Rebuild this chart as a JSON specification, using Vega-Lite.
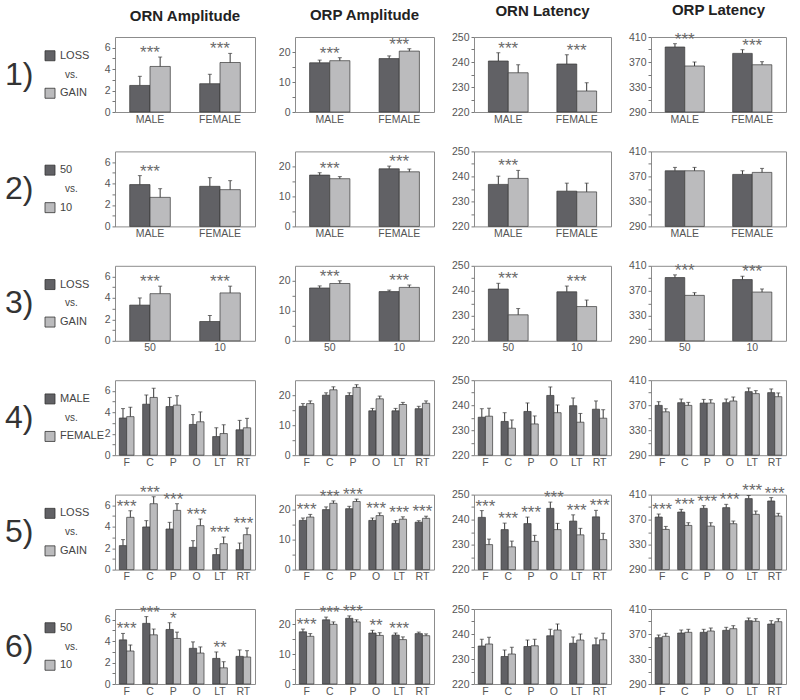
{
"$schema":"https://vega.github.io/schema/vega-lite/v6.json",
"padding":{"left":5,"right":5,"top":2,"bottom":5},
"config":{"font":"Liberation Sans","view":{"stroke":"#8c8c8c","strokeWidth":1},"axis":{"domain":false,"grid":false,"labelColor":"#555","labelFontSize":10.5,"tickColor":"#777","tickSize":3,"labelPadding":2},"title":{"fontSize":15,"fontWeight":"bold","color":"#222","offset":13}},
"datasets":{
"leg":[
{"r":1,"slot":"top","t":"LOSS","sh":"a"},{"r":1,"slot":"mid","t":"vs.","n":"1)"},{"r":1,"slot":"bot","t":"GAIN","sh":"b"},
{"r":2,"slot":"top","t":"50","sh":"a"},{"r":2,"slot":"mid","t":"vs.","n":"2)"},{"r":2,"slot":"bot","t":"10","sh":"b"},
{"r":3,"slot":"top","t":"LOSS","sh":"a"},{"r":3,"slot":"mid","t":"vs.","n":"3)"},{"r":3,"slot":"bot","t":"GAIN","sh":"b"},
{"r":4,"slot":"top","t":"MALE","sh":"a"},{"r":4,"slot":"mid","t":"vs.","n":"4)"},{"r":4,"slot":"bot","t":"FEMALE","sh":"b"},
{"r":5,"slot":"top","t":"LOSS","sh":"a"},{"r":5,"slot":"mid","t":"vs.","n":"5)"},{"r":5,"slot":"bot","t":"GAIN","sh":"b"},
{"r":6,"slot":"top","t":"50","sh":"a"},{"r":6,"slot":"mid","t":"vs.","n":"6)"},{"r":6,"slot":"bot","t":"10","sh":"b"}
],
"d":[
{"r":1,"m":"A","c":"MALE","g":"a","v":2.48,"e":0.85,"s":"***"},{"r":1,"m":"A","c":"MALE","g":"b","v":4.25,"e":0.88},
{"r":1,"m":"A","c":"FEMALE","g":"a","v":2.64,"e":0.88,"s":"***"},{"r":1,"m":"A","c":"FEMALE","g":"b","v":4.62,"e":0.85},
{"r":1,"m":"B","c":"MALE","g":"a","v":16.4,"e":0.9,"s":"***"},{"r":1,"m":"B","c":"MALE","g":"b","v":17.1,"e":1.0},
{"r":1,"m":"B","c":"FEMALE","g":"a","v":17.8,"e":0.9,"s":"***"},{"r":1,"m":"B","c":"FEMALE","g":"b","v":20.3,"e":0.8},
{"r":1,"m":"C","c":"MALE","g":"a","v":240.4,"e":3.3,"s":"***"},{"r":1,"m":"C","c":"MALE","g":"b","v":235.7,"e":3.2},
{"r":1,"m":"C","c":"FEMALE","g":"a","v":239.2,"e":3.7,"s":"***"},{"r":1,"m":"C","c":"FEMALE","g":"b","v":228.4,"e":3.3},
{"r":1,"m":"D","c":"MALE","g":"a","v":394,"e":5.3,"s":"***"},{"r":1,"m":"D","c":"MALE","g":"b","v":363.6,"e":6.4},
{"r":1,"m":"D","c":"FEMALE","g":"a","v":383.8,"e":5.9,"s":"***"},{"r":1,"m":"D","c":"FEMALE","g":"b","v":365.6,"e":4.9},
{"r":2,"m":"A","c":"MALE","g":"a","v":3.9,"e":0.84,"s":"***"},{"r":2,"m":"A","c":"MALE","g":"b","v":2.71,"e":0.81},
{"r":2,"m":"A","c":"FEMALE","g":"a","v":3.74,"e":0.81},{"r":2,"m":"A","c":"FEMALE","g":"b","v":3.43,"e":0.84},
{"r":2,"m":"B","c":"MALE","g":"a","v":17.1,"e":0.8,"s":"***"},{"r":2,"m":"B","c":"MALE","g":"b","v":15.9,"e":0.7},
{"r":2,"m":"B","c":"FEMALE","g":"a","v":19.2,"e":0.9,"s":"***"},{"r":2,"m":"B","c":"FEMALE","g":"b","v":18.2,"e":0.9},
{"r":2,"m":"C","c":"MALE","g":"a","v":236.8,"e":3.3,"s":"***"},{"r":2,"m":"C","c":"MALE","g":"b","v":239.2,"e":3.2},
{"r":2,"m":"C","c":"FEMALE","g":"a","v":234.1,"e":3.2},{"r":2,"m":"C","c":"FEMALE","g":"b","v":233.8,"e":3.5},
{"r":2,"m":"D","c":"MALE","g":"a","v":379,"e":5.4},{"r":2,"m":"D","c":"MALE","g":"b","v":379,"e":5.4},
{"r":2,"m":"D","c":"FEMALE","g":"a","v":373.2,"e":5.8},{"r":2,"m":"D","c":"FEMALE","g":"b","v":376.4,"e":6.4},
{"r":3,"m":"A","c":"50","g":"a","v":3.33,"e":0.67,"s":"***"},{"r":3,"m":"A","c":"50","g":"b","v":4.4,"e":0.7},
{"r":3,"m":"A","c":"10","g":"a","v":1.8,"e":0.56,"s":"***"},{"r":3,"m":"A","c":"10","g":"b","v":4.47,"e":0.63},
{"r":3,"m":"B","c":"50","g":"a","v":17.6,"e":0.7,"s":"***"},{"r":3,"m":"B","c":"50","g":"b","v":19.1,"e":0.9},
{"r":3,"m":"B","c":"10","g":"a","v":16.4,"e":0.5,"s":"***"},{"r":3,"m":"B","c":"10","g":"b","v":17.8,"e":0.8},
{"r":3,"m":"C","c":"50","g":"a","v":240.7,"e":2.3,"s":"***"},{"r":3,"m":"C","c":"50","g":"b","v":230.4,"e":2.5},
{"r":3,"m":"C","c":"10","g":"a","v":239.6,"e":2.3,"s":"***"},{"r":3,"m":"C","c":"10","g":"b","v":233.7,"e":2.6},
{"r":3,"m":"D","c":"50","g":"a","v":391.2,"e":4.3,"s":"***"},{"r":3,"m":"D","c":"50","g":"b","v":362.7,"e":4.3},
{"r":3,"m":"D","c":"10","g":"a","v":388,"e":5.3,"s":"***"},{"r":3,"m":"D","c":"10","g":"b","v":368,"e":4.9},
{"r":4,"m":"A","c":"F","g":"a","v":3.47,"e":0.88},{"r":4,"m":"A","c":"F","g":"b","v":3.6,"e":0.88},
{"r":4,"m":"A","c":"C","g":"a","v":4.76,"e":0.86},{"r":4,"m":"A","c":"C","g":"b","v":5.39,"e":0.86},
{"r":4,"m":"A","c":"P","g":"a","v":4.54,"e":0.85},{"r":4,"m":"A","c":"P","g":"b","v":4.67,"e":0.88},
{"r":4,"m":"A","c":"O","g":"a","v":2.87,"e":0.92},{"r":4,"m":"A","c":"O","g":"b","v":3.12,"e":0.92},
{"r":4,"m":"A","c":"LT","g":"a","v":1.74,"e":0.82},{"r":4,"m":"A","c":"LT","g":"b","v":2.02,"e":0.82},
{"r":4,"m":"A","c":"RT","g":"a","v":2.37,"e":0.88},{"r":4,"m":"A","c":"RT","g":"b","v":2.56,"e":0.88},
{"r":4,"m":"B","c":"F","g":"a","v":16.3,"e":0.9},{"r":4,"m":"B","c":"F","g":"b","v":17.2,"e":0.9},
{"r":4,"m":"B","c":"C","g":"a","v":20,"e":0.8},{"r":4,"m":"B","c":"C","g":"b","v":21.8,"e":1.0},
{"r":4,"m":"B","c":"P","g":"a","v":19.9,"e":0.9},{"r":4,"m":"B","c":"P","g":"b","v":22.6,"e":0.9},
{"r":4,"m":"B","c":"O","g":"a","v":14.8,"e":0.8},{"r":4,"m":"B","c":"O","g":"b","v":18.8,"e":0.9},
{"r":4,"m":"B","c":"LT","g":"a","v":14.8,"e":0.8},{"r":4,"m":"B","c":"LT","g":"b","v":16.9,"e":0.7},
{"r":4,"m":"B","c":"RT","g":"a","v":15.5,"e":0.8},{"r":4,"m":"B","c":"RT","g":"b","v":17.3,"e":0.8},
{"r":4,"m":"C","c":"F","g":"a","v":235.2,"e":3.4},{"r":4,"m":"C","c":"F","g":"b","v":235.6,"e":3.2},
{"r":4,"m":"C","c":"C","g":"a","v":233.5,"e":3.5},{"r":4,"m":"C","c":"C","g":"b","v":230.8,"e":3.3},
{"r":4,"m":"C","c":"P","g":"a","v":237.5,"e":3.4},{"r":4,"m":"C","c":"P","g":"b","v":232.5,"e":3.2},
{"r":4,"m":"C","c":"O","g":"a","v":243.9,"e":3.4},{"r":4,"m":"C","c":"O","g":"b","v":237,"e":3.1},
{"r":4,"m":"C","c":"LT","g":"a","v":239.8,"e":3.1},{"r":4,"m":"C","c":"LT","g":"b","v":233.2,"e":3.5},
{"r":4,"m":"C","c":"RT","g":"a","v":238.4,"e":3.3},{"r":4,"m":"C","c":"RT","g":"b","v":234.8,"e":3.4},
{"r":4,"m":"D","c":"F","g":"a","v":369.7,"e":5.9},{"r":4,"m":"D","c":"F","g":"b","v":359.4,"e":4.9},
{"r":4,"m":"D","c":"C","g":"a","v":374,"e":5.9},{"r":4,"m":"D","c":"C","g":"b","v":369.7,"e":4.8},
{"r":4,"m":"D","c":"P","g":"a","v":373.4,"e":5.9},{"r":4,"m":"D","c":"P","g":"b","v":373.4,"e":5.4},
{"r":4,"m":"D","c":"O","g":"a","v":374,"e":5.9},{"r":4,"m":"D","c":"O","g":"b","v":376.7,"e":6.4},
{"r":4,"m":"D","c":"LT","g":"a","v":391.7,"e":5.9},{"r":4,"m":"D","c":"LT","g":"b","v":388.5,"e":4.8},
{"r":4,"m":"D","c":"RT","g":"a","v":390.1,"e":5.9},{"r":4,"m":"D","c":"RT","g":"b","v":383.6,"e":6},
{"r":5,"m":"A","c":"F","g":"a","v":2.24,"e":0.56,"s":"***"},{"r":5,"m":"A","c":"F","g":"b","v":4.88,"e":0.62},
{"r":5,"m":"A","c":"C","g":"a","v":3.98,"e":0.59,"s":"***"},{"r":5,"m":"A","c":"C","g":"b","v":6.15,"e":0.65},
{"r":5,"m":"A","c":"P","g":"a","v":3.79,"e":0.62,"s":"***"},{"r":5,"m":"A","c":"P","g":"b","v":5.53,"e":0.62},
{"r":5,"m":"A","c":"O","g":"a","v":2.08,"e":0.62,"s":"***"},{"r":5,"m":"A","c":"O","g":"b","v":4.1,"e":0.62},
{"r":5,"m":"A","c":"LT","g":"a","v":1.4,"e":0.56,"s":"***"},{"r":5,"m":"A","c":"LT","g":"b","v":2.42,"e":0.62},
{"r":5,"m":"A","c":"RT","g":"a","v":1.86,"e":0.62,"s":"***"},{"r":5,"m":"A","c":"RT","g":"b","v":3.26,"e":0.62},
{"r":5,"m":"B","c":"F","g":"a","v":16.4,"e":0.8,"s":"***"},{"r":5,"m":"B","c":"F","g":"b","v":17.5,"e":0.9},
{"r":5,"m":"B","c":"C","g":"a","v":20,"e":0.9,"s":"***"},{"r":5,"m":"B","c":"C","g":"b","v":22.1,"e":0.8},
{"r":5,"m":"B","c":"P","g":"a","v":20.3,"e":0.8,"s":"***"},{"r":5,"m":"B","c":"P","g":"b","v":22.7,"e":0.8},
{"r":5,"m":"B","c":"O","g":"a","v":16.4,"e":0.8,"s":"***"},{"r":5,"m":"B","c":"O","g":"b","v":18,"e":0.9},
{"r":5,"m":"B","c":"LT","g":"a","v":15.4,"e":0.9,"s":"***"},{"r":5,"m":"B","c":"LT","g":"b","v":16.8,"e":0.8},
{"r":5,"m":"B","c":"RT","g":"a","v":15.8,"e":0.5,"s":"***"},{"r":5,"m":"B","c":"RT","g":"b","v":17.1,"e":0.7},
{"r":5,"m":"C","c":"F","g":"a","v":240.9,"e":2.7,"s":"***"},{"r":5,"m":"C","c":"F","g":"b","v":230,"e":2.2},
{"r":5,"m":"C","c":"C","g":"a","v":236,"e":2.6,"s":"***"},{"r":5,"m":"C","c":"C","g":"b","v":229.1,"e":2.3},
{"r":5,"m":"C","c":"P","g":"a","v":238.4,"e":2.6,"s":"***"},{"r":5,"m":"C","c":"P","g":"b","v":231.3,"e":2.4},
{"r":5,"m":"C","c":"O","g":"a","v":244.5,"e":2.5,"s":"***"},{"r":5,"m":"C","c":"O","g":"b","v":236,"e":2.5},
{"r":5,"m":"C","c":"LT","g":"a","v":239.4,"e":2.5,"s":"***"},{"r":5,"m":"C","c":"LT","g":"b","v":233.9,"e":2.6},
{"r":5,"m":"C","c":"RT","g":"a","v":241.1,"e":2.6,"s":"***"},{"r":5,"m":"C","c":"RT","g":"b","v":232,"e":2.5},
{"r":5,"m":"D","c":"F","g":"a","v":374.1,"e":4.8,"s":"***"},{"r":5,"m":"D","c":"F","g":"b","v":354.3,"e":4.8},
{"r":5,"m":"D","c":"C","g":"a","v":382.1,"e":4.3,"s":"***"},{"r":5,"m":"D","c":"C","g":"b","v":360.7,"e":4.3},
{"r":5,"m":"D","c":"P","g":"a","v":388,"e":4.3,"s":"***"},{"r":5,"m":"D","c":"P","g":"b","v":359.6,"e":5.4},
{"r":5,"m":"D","c":"O","g":"a","v":389.1,"e":5.3,"s":"***"},{"r":5,"m":"D","c":"O","g":"b","v":363.4,"e":4.3},
{"r":5,"m":"D","c":"LT","g":"a","v":403.6,"e":5,"s":"***"},{"r":5,"m":"D","c":"LT","g":"b","v":378.4,"e":5.3},
{"r":5,"m":"D","c":"RT","g":"a","v":399.8,"e":5.4,"s":"***"},{"r":5,"m":"D","c":"RT","g":"b","v":375.7,"e":4.3},
{"r":6,"m":"A","c":"F","g":"a","v":4.12,"e":0.6,"s":"***"},{"r":6,"m":"A","c":"F","g":"b","v":3.08,"e":0.57},
{"r":6,"m":"A","c":"C","g":"a","v":5.66,"e":0.63,"s":"***"},{"r":6,"m":"A","c":"C","g":"b","v":4.59,"e":0.54},
{"r":6,"m":"A","c":"P","g":"a","v":5.09,"e":0.63,"s":"*"},{"r":6,"m":"A","c":"P","g":"b","v":4.25,"e":0.59},
{"r":6,"m":"A","c":"O","g":"a","v":3.33,"e":0.6},{"r":6,"m":"A","c":"O","g":"b","v":2.89,"e":0.57},
{"r":6,"m":"A","c":"LT","g":"a","v":2.39,"e":0.6,"s":"**"},{"r":6,"m":"A","c":"LT","g":"b","v":1.51,"e":0.57},
{"r":6,"m":"A","c":"RT","g":"a","v":2.58,"e":0.6},{"r":6,"m":"A","c":"RT","g":"b","v":2.52,"e":0.59},
{"r":6,"m":"B","c":"F","g":"a","v":17.4,"e":0.9,"s":"***"},{"r":6,"m":"B","c":"F","g":"b","v":15.9,"e":0.9},
{"r":6,"m":"B","c":"C","g":"a","v":21.4,"e":0.9,"s":"***"},{"r":6,"m":"B","c":"C","g":"b","v":19.9,"e":0.8},
{"r":6,"m":"B","c":"P","g":"a","v":21.9,"e":0.8,"s":"***"},{"r":6,"m":"B","c":"P","g":"b","v":20.7,"e":0.7},
{"r":6,"m":"B","c":"O","g":"a","v":17,"e":0.9,"s":"**"},{"r":6,"m":"B","c":"O","g":"b","v":16.2,"e":0.9},
{"r":6,"m":"B","c":"LT","g":"a","v":16.3,"e":0.7,"s":"***"},{"r":6,"m":"B","c":"LT","g":"b","v":14.8,"e":0.9},
{"r":6,"m":"B","c":"RT","g":"a","v":16.8,"e":0.5},{"r":6,"m":"B","c":"RT","g":"b","v":16.1,"e":0.6},
{"r":6,"m":"C","c":"F","g":"a","v":235.2,"e":2.7},{"r":6,"m":"C","c":"F","g":"b","v":236,"e":2.7},
{"r":6,"m":"C","c":"C","g":"a","v":231,"e":2.6},{"r":6,"m":"C","c":"C","g":"b","v":232,"e":2.7},
{"r":6,"m":"C","c":"P","g":"a","v":235,"e":2.6},{"r":6,"m":"C","c":"P","g":"b","v":235.3,"e":2.6},
{"r":6,"m":"C","c":"O","g":"a","v":239.3,"e":2.6},{"r":6,"m":"C","c":"O","g":"b","v":241.6,"e":2.4},
{"r":6,"m":"C","c":"LT","g":"a","v":236.3,"e":2.5},{"r":6,"m":"C","c":"LT","g":"b","v":237.6,"e":2.4},
{"r":6,"m":"C","c":"RT","g":"a","v":235.7,"e":2.7},{"r":6,"m":"C","c":"RT","g":"b","v":237.7,"e":2.6},
{"r":6,"m":"D","c":"F","g":"a","v":364.1,"e":4.3},{"r":6,"m":"D","c":"F","g":"b","v":366.3,"e":4.8},
{"r":6,"m":"D","c":"C","g":"a","v":371.6,"e":4.8},{"r":6,"m":"D","c":"C","g":"b","v":372.7,"e":4.8},
{"r":6,"m":"D","c":"P","g":"a","v":372.7,"e":4.8},{"r":6,"m":"D","c":"P","g":"b","v":374.8,"e":4.8},
{"r":6,"m":"D","c":"O","g":"a","v":375.9,"e":4.8},{"r":6,"m":"D","c":"O","g":"b","v":378.5,"e":4.8},
{"r":6,"m":"D","c":"LT","g":"a","v":391.3,"e":4.3},{"r":6,"m":"D","c":"LT","g":"b","v":390.3,"e":4.2},
{"r":6,"m":"D","c":"RT","g":"a","v":386,"e":5.3},{"r":6,"m":"D","c":"RT","g":"b","v":389.7,"e":4.8}
]},
"bounds":"flush",
"columns":5,
"spacing":{"row":39.4,"column":40},
"resolve":{"scale":{"xOffset":"independent"}},
"concat":[
{"width":70,"height":75,"view":{"stroke":null},"data":{"name":"leg"},"transform":[{"filter":"datum.r==1"}],"encoding":{"y":{"field":"slot","type":"nominal","scale":{"type":"point","domain":["top","mid","bot"],"padding":1.5},"axis":null}},"layer":[
{"transform":[{"filter":"datum.n"}],"mark":{"type":"text","align":"left","baseline":"middle","fontSize":32,"color":"#333"},"encoding":{"x":{"datum":0,"type":"quantitative","scale":{"domain":[0,70],"zero":false,"nice":false},"axis":null},"text":{"field":"n"}}},
{"transform":[{"filter":"datum.sh"}],"mark":{"type":"square","size":100,"opacity":1,"stroke":"#333","strokeWidth":0.8},"encoding":{"x":{"datum":45,"type":"quantitative","scale":{"domain":[0,70],"zero":false,"nice":false},"axis":null},"color":{"field":"sh","type":"nominal","scale":{"domain":["a","b"],"range":["#616165","#bbbbbd"]},"legend":null}}},
{"transform":[{"filter":"datum.sh"}],"mark":{"type":"text","align":"left","baseline":"middle","fontSize":11,"color":"#444"},"encoding":{"x":{"datum":55,"type":"quantitative","scale":{"domain":[0,70],"zero":false,"nice":false},"axis":null},"text":{"field":"t"}}},
{"transform":[{"filter":"datum.t=='vs.'"}],"mark":{"type":"text","align":"left","baseline":"middle","fontSize":10,"color":"#444"},"encoding":{"x":{"datum":60,"type":"quantitative","scale":{"domain":[0,70],"zero":false,"nice":false},"axis":null},"text":{"field":"t"}}}]},
{"title":"ORN Amplitude","width":140,"height":75,"data":{"name":"d"},"transform":[{"filter":"datum.r==1 && datum.m=='A'"},{"calculate":"datum.v+datum.e","as":"hi"},{"joinaggregate":[{"op":"max","field":"hi","as":"top"}],"groupby":["c"]}],"encoding":{"x":{"field":"c","type":"nominal","sort":null,"title":null,"scale":{"paddingInner":0.42,"paddingOuter":0.21},"axis":{"labelAngle":0,"ticks":false,"labelPadding":2}},"y":{"field":"v","type":"quantitative","title":null,"scale":{"domain":[0,7],"nice":false,"zero":false},"axis":{"values":[0,1,2,3,4,5,6],"labelExpr":"datum.value % 2 === 0 ? datum.label : ''"}}},"layer":[
{"mark":{"type":"bar","stroke":"#383838","strokeWidth":0.7},"encoding":{"y2":{"datum":0},"xOffset":{"field":"g","type":"nominal"},"color":{"field":"g","type":"nominal","scale":{"domain":["a","b"],"range":["#616165","#bbbbbd"]},"legend":null}}},
{"mark":{"type":"rule","color":"#383838","strokeWidth":1},"encoding":{"xOffset":{"field":"g","type":"nominal"},"y2":{"field":"hi"}}},
{"mark":{"type":"tick","color":"#383838","thickness":1,"size":4},"encoding":{"xOffset":{"field":"g","type":"nominal"},"y":{"field":"hi","type":"quantitative","title":null,"scale":{"domain":[0,7],"nice":false,"zero":false}}}},
{"transform":[{"filter":"datum.g=='a' && datum.s"}],"mark":{"type":"text","fontSize":17,"color":"#6a6a6a","baseline":"middle","dy":-4},"encoding":{"text":{"field":"s"},"y":{"field":"top","type":"quantitative","title":null,"scale":{"domain":[0,7],"nice":false,"zero":false}}}}]},
{"title":"ORP Amplitude","width":139,"height":75,"data":{"name":"d"},"transform":[{"filter":"datum.r==1 && datum.m=='B'"},{"calculate":"datum.v+datum.e","as":"hi"},{"joinaggregate":[{"op":"max","field":"hi","as":"top"}],"groupby":["c"]}],"encoding":{"x":{"field":"c","type":"nominal","sort":null,"title":null,"scale":{"paddingInner":0.42,"paddingOuter":0.21},"axis":{"labelAngle":0,"ticks":false,"labelPadding":2}},"y":{"field":"v","type":"quantitative","title":null,"scale":{"domain":[0,25],"nice":false,"zero":false},"axis":{"values":[0,5,10,15,20],"labelExpr":"datum.value % 10 === 0 ? datum.label : ''"}}},"layer":[
{"mark":{"type":"bar","stroke":"#383838","strokeWidth":0.7},"encoding":{"y2":{"datum":0},"xOffset":{"field":"g","type":"nominal"},"color":{"field":"g","type":"nominal","scale":{"domain":["a","b"],"range":["#616165","#bbbbbd"]},"legend":null}}},
{"mark":{"type":"rule","color":"#383838","strokeWidth":1},"encoding":{"xOffset":{"field":"g","type":"nominal"},"y2":{"field":"hi"}}},
{"mark":{"type":"tick","color":"#383838","thickness":1,"size":4},"encoding":{"xOffset":{"field":"g","type":"nominal"},"y":{"field":"hi","type":"quantitative","title":null,"scale":{"domain":[0,25],"nice":false,"zero":false}}}},
{"transform":[{"filter":"datum.g=='a' && datum.s"}],"mark":{"type":"text","fontSize":17,"color":"#6a6a6a","baseline":"middle","dy":-4},"encoding":{"text":{"field":"s"},"y":{"field":"top","type":"quantitative","title":null,"scale":{"domain":[0,25],"nice":false,"zero":false}}}}]},
{"title":"ORN Latency","width":137,"height":75,"data":{"name":"d"},"transform":[{"filter":"datum.r==1 && datum.m=='C'"},{"calculate":"datum.v+datum.e","as":"hi"},{"joinaggregate":[{"op":"max","field":"hi","as":"top"}],"groupby":["c"]}],"encoding":{"x":{"field":"c","type":"nominal","sort":null,"title":null,"scale":{"paddingInner":0.42,"paddingOuter":0.21},"axis":{"labelAngle":0,"ticks":false,"labelPadding":2}},"y":{"field":"v","type":"quantitative","title":null,"scale":{"domain":[220,250],"nice":false,"zero":false},"axis":{"values":[220,225,230,235,240,245,250],"labelExpr":"datum.value % 10 === 0 ? datum.label : ''"}}},"layer":[
{"mark":{"type":"bar","stroke":"#383838","strokeWidth":0.7},"encoding":{"y2":{"datum":220},"xOffset":{"field":"g","type":"nominal"},"color":{"field":"g","type":"nominal","scale":{"domain":["a","b"],"range":["#616165","#bbbbbd"]},"legend":null}}},
{"mark":{"type":"rule","color":"#383838","strokeWidth":1},"encoding":{"xOffset":{"field":"g","type":"nominal"},"y2":{"field":"hi"}}},
{"mark":{"type":"tick","color":"#383838","thickness":1,"size":4},"encoding":{"xOffset":{"field":"g","type":"nominal"},"y":{"field":"hi","type":"quantitative","title":null,"scale":{"domain":[220,250],"nice":false,"zero":false}}}},
{"transform":[{"filter":"datum.g=='a' && datum.s"}],"mark":{"type":"text","fontSize":17,"color":"#6a6a6a","baseline":"middle","dy":-4},"encoding":{"text":{"field":"s"},"y":{"field":"top","type":"quantitative","title":null,"scale":{"domain":[220,250],"nice":false,"zero":false}}}}]},
{"title":"ORP Latency","width":135,"height":75,"data":{"name":"d"},"transform":[{"filter":"datum.r==1 && datum.m=='D'"},{"calculate":"datum.v+datum.e","as":"hi"},{"joinaggregate":[{"op":"max","field":"hi","as":"top"}],"groupby":["c"]}],"encoding":{"x":{"field":"c","type":"nominal","sort":null,"title":null,"scale":{"paddingInner":0.42,"paddingOuter":0.21},"axis":{"labelAngle":0,"ticks":false,"labelPadding":2}},"y":{"field":"v","type":"quantitative","title":null,"scale":{"domain":[290,410],"nice":false,"zero":false},"axis":{"values":[290,310,330,350,370,390,410],"labelExpr":"(datum.value - 290) % 40 === 0 ? datum.label : ''"}}},"layer":[
{"mark":{"type":"bar","stroke":"#383838","strokeWidth":0.7},"encoding":{"y2":{"datum":290},"xOffset":{"field":"g","type":"nominal"},"color":{"field":"g","type":"nominal","scale":{"domain":["a","b"],"range":["#616165","#bbbbbd"]},"legend":null}}},
{"mark":{"type":"rule","color":"#383838","strokeWidth":1},"encoding":{"xOffset":{"field":"g","type":"nominal"},"y2":{"field":"hi"}}},
{"mark":{"type":"tick","color":"#383838","thickness":1,"size":4},"encoding":{"xOffset":{"field":"g","type":"nominal"},"y":{"field":"hi","type":"quantitative","title":null,"scale":{"domain":[290,410],"nice":false,"zero":false}}}},
{"transform":[{"filter":"datum.g=='a' && datum.s"}],"mark":{"type":"text","fontSize":17,"color":"#6a6a6a","baseline":"middle","dy":-4},"encoding":{"text":{"field":"s"},"y":{"field":"top","type":"quantitative","title":null,"scale":{"domain":[290,410],"nice":false,"zero":false}}}}]},

{"width":70,"height":75,"view":{"stroke":null},"data":{"name":"leg"},"transform":[{"filter":"datum.r==2"}],"encoding":{"y":{"field":"slot","type":"nominal","scale":{"type":"point","domain":["top","mid","bot"],"padding":1.5},"axis":null}},"layer":[
{"transform":[{"filter":"datum.n"}],"mark":{"type":"text","align":"left","baseline":"middle","fontSize":32,"color":"#333"},"encoding":{"x":{"datum":0,"type":"quantitative","scale":{"domain":[0,70],"zero":false,"nice":false},"axis":null},"text":{"field":"n"}}},
{"transform":[{"filter":"datum.sh"}],"mark":{"type":"square","size":100,"opacity":1,"stroke":"#333","strokeWidth":0.8},"encoding":{"x":{"datum":45,"type":"quantitative","scale":{"domain":[0,70],"zero":false,"nice":false},"axis":null},"color":{"field":"sh","type":"nominal","scale":{"domain":["a","b"],"range":["#616165","#bbbbbd"]},"legend":null}}},
{"transform":[{"filter":"datum.sh"}],"mark":{"type":"text","align":"left","baseline":"middle","fontSize":11,"color":"#444"},"encoding":{"x":{"datum":55,"type":"quantitative","scale":{"domain":[0,70],"zero":false,"nice":false},"axis":null},"text":{"field":"t"}}},
{"transform":[{"filter":"datum.t=='vs.'"}],"mark":{"type":"text","align":"left","baseline":"middle","fontSize":10,"color":"#444"},"encoding":{"x":{"datum":60,"type":"quantitative","scale":{"domain":[0,70],"zero":false,"nice":false},"axis":null},"text":{"field":"t"}}}]},
{"width":140,"height":75,"data":{"name":"d"},"transform":[{"filter":"datum.r==2 && datum.m=='A'"},{"calculate":"datum.v+datum.e","as":"hi"},{"joinaggregate":[{"op":"max","field":"hi","as":"top"}],"groupby":["c"]}],"encoding":{"x":{"field":"c","type":"nominal","sort":null,"title":null,"scale":{"paddingInner":0.42,"paddingOuter":0.21},"axis":{"labelAngle":0,"ticks":false,"labelPadding":2}},"y":{"field":"v","type":"quantitative","title":null,"scale":{"domain":[0,7],"nice":false,"zero":false},"axis":{"values":[0,1,2,3,4,5,6],"labelExpr":"datum.value % 2 === 0 ? datum.label : ''"}}},"layer":[
{"mark":{"type":"bar","stroke":"#383838","strokeWidth":0.7},"encoding":{"y2":{"datum":0},"xOffset":{"field":"g","type":"nominal"},"color":{"field":"g","type":"nominal","scale":{"domain":["a","b"],"range":["#616165","#bbbbbd"]},"legend":null}}},
{"mark":{"type":"rule","color":"#383838","strokeWidth":1},"encoding":{"xOffset":{"field":"g","type":"nominal"},"y2":{"field":"hi"}}},
{"mark":{"type":"tick","color":"#383838","thickness":1,"size":4},"encoding":{"xOffset":{"field":"g","type":"nominal"},"y":{"field":"hi","type":"quantitative","title":null,"scale":{"domain":[0,7],"nice":false,"zero":false}}}},
{"transform":[{"filter":"datum.g=='a' && datum.s"}],"mark":{"type":"text","fontSize":17,"color":"#6a6a6a","baseline":"middle","dy":-4},"encoding":{"text":{"field":"s"},"y":{"field":"top","type":"quantitative","title":null,"scale":{"domain":[0,7],"nice":false,"zero":false}}}}]},
{"width":139,"height":75,"data":{"name":"d"},"transform":[{"filter":"datum.r==2 && datum.m=='B'"},{"calculate":"datum.v+datum.e","as":"hi"},{"joinaggregate":[{"op":"max","field":"hi","as":"top"}],"groupby":["c"]}],"encoding":{"x":{"field":"c","type":"nominal","sort":null,"title":null,"scale":{"paddingInner":0.42,"paddingOuter":0.21},"axis":{"labelAngle":0,"ticks":false,"labelPadding":2}},"y":{"field":"v","type":"quantitative","title":null,"scale":{"domain":[0,25],"nice":false,"zero":false},"axis":{"values":[0,5,10,15,20],"labelExpr":"datum.value % 10 === 0 ? datum.label : ''"}}},"layer":[
{"mark":{"type":"bar","stroke":"#383838","strokeWidth":0.7},"encoding":{"y2":{"datum":0},"xOffset":{"field":"g","type":"nominal"},"color":{"field":"g","type":"nominal","scale":{"domain":["a","b"],"range":["#616165","#bbbbbd"]},"legend":null}}},
{"mark":{"type":"rule","color":"#383838","strokeWidth":1},"encoding":{"xOffset":{"field":"g","type":"nominal"},"y2":{"field":"hi"}}},
{"mark":{"type":"tick","color":"#383838","thickness":1,"size":4},"encoding":{"xOffset":{"field":"g","type":"nominal"},"y":{"field":"hi","type":"quantitative","title":null,"scale":{"domain":[0,25],"nice":false,"zero":false}}}},
{"transform":[{"filter":"datum.g=='a' && datum.s"}],"mark":{"type":"text","fontSize":17,"color":"#6a6a6a","baseline":"middle","dy":-4},"encoding":{"text":{"field":"s"},"y":{"field":"top","type":"quantitative","title":null,"scale":{"domain":[0,25],"nice":false,"zero":false}}}}]},
{"width":137,"height":75,"data":{"name":"d"},"transform":[{"filter":"datum.r==2 && datum.m=='C'"},{"calculate":"datum.v+datum.e","as":"hi"},{"joinaggregate":[{"op":"max","field":"hi","as":"top"}],"groupby":["c"]}],"encoding":{"x":{"field":"c","type":"nominal","sort":null,"title":null,"scale":{"paddingInner":0.42,"paddingOuter":0.21},"axis":{"labelAngle":0,"ticks":false,"labelPadding":2}},"y":{"field":"v","type":"quantitative","title":null,"scale":{"domain":[220,250],"nice":false,"zero":false},"axis":{"values":[220,225,230,235,240,245,250],"labelExpr":"datum.value % 10 === 0 ? datum.label : ''"}}},"layer":[
{"mark":{"type":"bar","stroke":"#383838","strokeWidth":0.7},"encoding":{"y2":{"datum":220},"xOffset":{"field":"g","type":"nominal"},"color":{"field":"g","type":"nominal","scale":{"domain":["a","b"],"range":["#616165","#bbbbbd"]},"legend":null}}},
{"mark":{"type":"rule","color":"#383838","strokeWidth":1},"encoding":{"xOffset":{"field":"g","type":"nominal"},"y2":{"field":"hi"}}},
{"mark":{"type":"tick","color":"#383838","thickness":1,"size":4},"encoding":{"xOffset":{"field":"g","type":"nominal"},"y":{"field":"hi","type":"quantitative","title":null,"scale":{"domain":[220,250],"nice":false,"zero":false}}}},
{"transform":[{"filter":"datum.g=='a' && datum.s"}],"mark":{"type":"text","fontSize":17,"color":"#6a6a6a","baseline":"middle","dy":-4},"encoding":{"text":{"field":"s"},"y":{"field":"top","type":"quantitative","title":null,"scale":{"domain":[220,250],"nice":false,"zero":false}}}}]},
{"width":135,"height":75,"data":{"name":"d"},"transform":[{"filter":"datum.r==2 && datum.m=='D'"},{"calculate":"datum.v+datum.e","as":"hi"},{"joinaggregate":[{"op":"max","field":"hi","as":"top"}],"groupby":["c"]}],"encoding":{"x":{"field":"c","type":"nominal","sort":null,"title":null,"scale":{"paddingInner":0.42,"paddingOuter":0.21},"axis":{"labelAngle":0,"ticks":false,"labelPadding":2}},"y":{"field":"v","type":"quantitative","title":null,"scale":{"domain":[290,410],"nice":false,"zero":false},"axis":{"values":[290,310,330,350,370,390,410],"labelExpr":"(datum.value - 290) % 40 === 0 ? datum.label : ''"}}},"layer":[
{"mark":{"type":"bar","stroke":"#383838","strokeWidth":0.7},"encoding":{"y2":{"datum":290},"xOffset":{"field":"g","type":"nominal"},"color":{"field":"g","type":"nominal","scale":{"domain":["a","b"],"range":["#616165","#bbbbbd"]},"legend":null}}},
{"mark":{"type":"rule","color":"#383838","strokeWidth":1},"encoding":{"xOffset":{"field":"g","type":"nominal"},"y2":{"field":"hi"}}},
{"mark":{"type":"tick","color":"#383838","thickness":1,"size":4},"encoding":{"xOffset":{"field":"g","type":"nominal"},"y":{"field":"hi","type":"quantitative","title":null,"scale":{"domain":[290,410],"nice":false,"zero":false}}}},
{"transform":[{"filter":"datum.g=='a' && datum.s"}],"mark":{"type":"text","fontSize":17,"color":"#6a6a6a","baseline":"middle","dy":-4},"encoding":{"text":{"field":"s"},"y":{"field":"top","type":"quantitative","title":null,"scale":{"domain":[290,410],"nice":false,"zero":false}}}}]},

{"width":70,"height":75,"view":{"stroke":null},"data":{"name":"leg"},"transform":[{"filter":"datum.r==3"}],"encoding":{"y":{"field":"slot","type":"nominal","scale":{"type":"point","domain":["top","mid","bot"],"padding":1.5},"axis":null}},"layer":[
{"transform":[{"filter":"datum.n"}],"mark":{"type":"text","align":"left","baseline":"middle","fontSize":32,"color":"#333"},"encoding":{"x":{"datum":0,"type":"quantitative","scale":{"domain":[0,70],"zero":false,"nice":false},"axis":null},"text":{"field":"n"}}},
{"transform":[{"filter":"datum.sh"}],"mark":{"type":"square","size":100,"opacity":1,"stroke":"#333","strokeWidth":0.8},"encoding":{"x":{"datum":45,"type":"quantitative","scale":{"domain":[0,70],"zero":false,"nice":false},"axis":null},"color":{"field":"sh","type":"nominal","scale":{"domain":["a","b"],"range":["#616165","#bbbbbd"]},"legend":null}}},
{"transform":[{"filter":"datum.sh"}],"mark":{"type":"text","align":"left","baseline":"middle","fontSize":11,"color":"#444"},"encoding":{"x":{"datum":55,"type":"quantitative","scale":{"domain":[0,70],"zero":false,"nice":false},"axis":null},"text":{"field":"t"}}},
{"transform":[{"filter":"datum.t=='vs.'"}],"mark":{"type":"text","align":"left","baseline":"middle","fontSize":10,"color":"#444"},"encoding":{"x":{"datum":60,"type":"quantitative","scale":{"domain":[0,70],"zero":false,"nice":false},"axis":null},"text":{"field":"t"}}}]},
{"width":140,"height":75,"data":{"name":"d"},"transform":[{"filter":"datum.r==3 && datum.m=='A'"},{"calculate":"datum.v+datum.e","as":"hi"},{"joinaggregate":[{"op":"max","field":"hi","as":"top"}],"groupby":["c"]}],"encoding":{"x":{"field":"c","type":"nominal","sort":null,"title":null,"scale":{"paddingInner":0.42,"paddingOuter":0.21},"axis":{"labelAngle":0,"ticks":false,"labelPadding":2}},"y":{"field":"v","type":"quantitative","title":null,"scale":{"domain":[0,7],"nice":false,"zero":false},"axis":{"values":[0,1,2,3,4,5,6],"labelExpr":"datum.value % 2 === 0 ? datum.label : ''"}}},"layer":[
{"mark":{"type":"bar","stroke":"#383838","strokeWidth":0.7},"encoding":{"y2":{"datum":0},"xOffset":{"field":"g","type":"nominal"},"color":{"field":"g","type":"nominal","scale":{"domain":["a","b"],"range":["#616165","#bbbbbd"]},"legend":null}}},
{"mark":{"type":"rule","color":"#383838","strokeWidth":1},"encoding":{"xOffset":{"field":"g","type":"nominal"},"y2":{"field":"hi"}}},
{"mark":{"type":"tick","color":"#383838","thickness":1,"size":4},"encoding":{"xOffset":{"field":"g","type":"nominal"},"y":{"field":"hi","type":"quantitative","title":null,"scale":{"domain":[0,7],"nice":false,"zero":false}}}},
{"transform":[{"filter":"datum.g=='a' && datum.s"}],"mark":{"type":"text","fontSize":17,"color":"#6a6a6a","baseline":"middle","dy":-4},"encoding":{"text":{"field":"s"},"y":{"field":"top","type":"quantitative","title":null,"scale":{"domain":[0,7],"nice":false,"zero":false}}}}]},
{"width":139,"height":75,"data":{"name":"d"},"transform":[{"filter":"datum.r==3 && datum.m=='B'"},{"calculate":"datum.v+datum.e","as":"hi"},{"joinaggregate":[{"op":"max","field":"hi","as":"top"}],"groupby":["c"]}],"encoding":{"x":{"field":"c","type":"nominal","sort":null,"title":null,"scale":{"paddingInner":0.42,"paddingOuter":0.21},"axis":{"labelAngle":0,"ticks":false,"labelPadding":2}},"y":{"field":"v","type":"quantitative","title":null,"scale":{"domain":[0,25],"nice":false,"zero":false},"axis":{"values":[0,5,10,15,20],"labelExpr":"datum.value % 10 === 0 ? datum.label : ''"}}},"layer":[
{"mark":{"type":"bar","stroke":"#383838","strokeWidth":0.7},"encoding":{"y2":{"datum":0},"xOffset":{"field":"g","type":"nominal"},"color":{"field":"g","type":"nominal","scale":{"domain":["a","b"],"range":["#616165","#bbbbbd"]},"legend":null}}},
{"mark":{"type":"rule","color":"#383838","strokeWidth":1},"encoding":{"xOffset":{"field":"g","type":"nominal"},"y2":{"field":"hi"}}},
{"mark":{"type":"tick","color":"#383838","thickness":1,"size":4},"encoding":{"xOffset":{"field":"g","type":"nominal"},"y":{"field":"hi","type":"quantitative","title":null,"scale":{"domain":[0,25],"nice":false,"zero":false}}}},
{"transform":[{"filter":"datum.g=='a' && datum.s"}],"mark":{"type":"text","fontSize":17,"color":"#6a6a6a","baseline":"middle","dy":-4},"encoding":{"text":{"field":"s"},"y":{"field":"top","type":"quantitative","title":null,"scale":{"domain":[0,25],"nice":false,"zero":false}}}}]},
{"width":137,"height":75,"data":{"name":"d"},"transform":[{"filter":"datum.r==3 && datum.m=='C'"},{"calculate":"datum.v+datum.e","as":"hi"},{"joinaggregate":[{"op":"max","field":"hi","as":"top"}],"groupby":["c"]}],"encoding":{"x":{"field":"c","type":"nominal","sort":null,"title":null,"scale":{"paddingInner":0.42,"paddingOuter":0.21},"axis":{"labelAngle":0,"ticks":false,"labelPadding":2}},"y":{"field":"v","type":"quantitative","title":null,"scale":{"domain":[220,250],"nice":false,"zero":false},"axis":{"values":[220,225,230,235,240,245,250],"labelExpr":"datum.value % 10 === 0 ? datum.label : ''"}}},"layer":[
{"mark":{"type":"bar","stroke":"#383838","strokeWidth":0.7},"encoding":{"y2":{"datum":220},"xOffset":{"field":"g","type":"nominal"},"color":{"field":"g","type":"nominal","scale":{"domain":["a","b"],"range":["#616165","#bbbbbd"]},"legend":null}}},
{"mark":{"type":"rule","color":"#383838","strokeWidth":1},"encoding":{"xOffset":{"field":"g","type":"nominal"},"y2":{"field":"hi"}}},
{"mark":{"type":"tick","color":"#383838","thickness":1,"size":4},"encoding":{"xOffset":{"field":"g","type":"nominal"},"y":{"field":"hi","type":"quantitative","title":null,"scale":{"domain":[220,250],"nice":false,"zero":false}}}},
{"transform":[{"filter":"datum.g=='a' && datum.s"}],"mark":{"type":"text","fontSize":17,"color":"#6a6a6a","baseline":"middle","dy":-4},"encoding":{"text":{"field":"s"},"y":{"field":"top","type":"quantitative","title":null,"scale":{"domain":[220,250],"nice":false,"zero":false}}}}]},
{"width":135,"height":75,"data":{"name":"d"},"transform":[{"filter":"datum.r==3 && datum.m=='D'"},{"calculate":"datum.v+datum.e","as":"hi"},{"joinaggregate":[{"op":"max","field":"hi","as":"top"}],"groupby":["c"]}],"encoding":{"x":{"field":"c","type":"nominal","sort":null,"title":null,"scale":{"paddingInner":0.42,"paddingOuter":0.21},"axis":{"labelAngle":0,"ticks":false,"labelPadding":2}},"y":{"field":"v","type":"quantitative","title":null,"scale":{"domain":[290,410],"nice":false,"zero":false},"axis":{"values":[290,310,330,350,370,390,410],"labelExpr":"(datum.value - 290) % 40 === 0 ? datum.label : ''"}}},"layer":[
{"mark":{"type":"bar","stroke":"#383838","strokeWidth":0.7},"encoding":{"y2":{"datum":290},"xOffset":{"field":"g","type":"nominal"},"color":{"field":"g","type":"nominal","scale":{"domain":["a","b"],"range":["#616165","#bbbbbd"]},"legend":null}}},
{"mark":{"type":"rule","color":"#383838","strokeWidth":1},"encoding":{"xOffset":{"field":"g","type":"nominal"},"y2":{"field":"hi"}}},
{"mark":{"type":"tick","color":"#383838","thickness":1,"size":4},"encoding":{"xOffset":{"field":"g","type":"nominal"},"y":{"field":"hi","type":"quantitative","title":null,"scale":{"domain":[290,410],"nice":false,"zero":false}}}},
{"transform":[{"filter":"datum.g=='a' && datum.s"}],"mark":{"type":"text","fontSize":17,"color":"#6a6a6a","baseline":"middle","dy":-4},"encoding":{"text":{"field":"s"},"y":{"field":"top","type":"quantitative","title":null,"scale":{"domain":[290,410],"nice":false,"zero":false}}}}]},

{"width":70,"height":75,"view":{"stroke":null},"data":{"name":"leg"},"transform":[{"filter":"datum.r==4"}],"encoding":{"y":{"field":"slot","type":"nominal","scale":{"type":"point","domain":["top","mid","bot"],"padding":1.5},"axis":null}},"layer":[
{"transform":[{"filter":"datum.n"}],"mark":{"type":"text","align":"left","baseline":"middle","fontSize":32,"color":"#333"},"encoding":{"x":{"datum":0,"type":"quantitative","scale":{"domain":[0,70],"zero":false,"nice":false},"axis":null},"text":{"field":"n"}}},
{"transform":[{"filter":"datum.sh"}],"mark":{"type":"square","size":100,"opacity":1,"stroke":"#333","strokeWidth":0.8},"encoding":{"x":{"datum":45,"type":"quantitative","scale":{"domain":[0,70],"zero":false,"nice":false},"axis":null},"color":{"field":"sh","type":"nominal","scale":{"domain":["a","b"],"range":["#616165","#bbbbbd"]},"legend":null}}},
{"transform":[{"filter":"datum.sh"}],"mark":{"type":"text","align":"left","baseline":"middle","fontSize":11,"color":"#444"},"encoding":{"x":{"datum":55,"type":"quantitative","scale":{"domain":[0,70],"zero":false,"nice":false},"axis":null},"text":{"field":"t"}}},
{"transform":[{"filter":"datum.t=='vs.'"}],"mark":{"type":"text","align":"left","baseline":"middle","fontSize":10,"color":"#444"},"encoding":{"x":{"datum":60,"type":"quantitative","scale":{"domain":[0,70],"zero":false,"nice":false},"axis":null},"text":{"field":"t"}}}]},
{"width":140,"height":75,"data":{"name":"d"},"transform":[{"filter":"datum.r==4 && datum.m=='A'"},{"calculate":"datum.v+datum.e","as":"hi"},{"joinaggregate":[{"op":"max","field":"hi","as":"top"}],"groupby":["c"]}],"encoding":{"x":{"field":"c","type":"nominal","sort":null,"title":null,"scale":{"paddingInner":0.37,"paddingOuter":0.185},"axis":{"labelAngle":0,"ticks":false,"labelPadding":2}},"y":{"field":"v","type":"quantitative","title":null,"scale":{"domain":[0,7],"nice":false,"zero":false},"axis":{"values":[0,1,2,3,4,5,6],"labelExpr":"datum.value % 2 === 0 ? datum.label : ''"}}},"layer":[
{"mark":{"type":"bar","stroke":"#383838","strokeWidth":0.7},"encoding":{"y2":{"datum":0},"xOffset":{"field":"g","type":"nominal"},"color":{"field":"g","type":"nominal","scale":{"domain":["a","b"],"range":["#616165","#bbbbbd"]},"legend":null}}},
{"mark":{"type":"rule","color":"#383838","strokeWidth":1},"encoding":{"xOffset":{"field":"g","type":"nominal"},"y2":{"field":"hi"}}},
{"mark":{"type":"tick","color":"#383838","thickness":1,"size":4},"encoding":{"xOffset":{"field":"g","type":"nominal"},"y":{"field":"hi","type":"quantitative","title":null,"scale":{"domain":[0,7],"nice":false,"zero":false}}}},
{"transform":[{"filter":"datum.g=='a' && datum.s"}],"mark":{"type":"text","fontSize":17,"color":"#6a6a6a","baseline":"middle","dy":-4},"encoding":{"text":{"field":"s"},"y":{"field":"top","type":"quantitative","title":null,"scale":{"domain":[0,7],"nice":false,"zero":false}}}}]},
{"width":139,"height":75,"data":{"name":"d"},"transform":[{"filter":"datum.r==4 && datum.m=='B'"},{"calculate":"datum.v+datum.e","as":"hi"},{"joinaggregate":[{"op":"max","field":"hi","as":"top"}],"groupby":["c"]}],"encoding":{"x":{"field":"c","type":"nominal","sort":null,"title":null,"scale":{"paddingInner":0.37,"paddingOuter":0.185},"axis":{"labelAngle":0,"ticks":false,"labelPadding":2}},"y":{"field":"v","type":"quantitative","title":null,"scale":{"domain":[0,25],"nice":false,"zero":false},"axis":{"values":[0,5,10,15,20],"labelExpr":"datum.value % 10 === 0 ? datum.label : ''"}}},"layer":[
{"mark":{"type":"bar","stroke":"#383838","strokeWidth":0.7},"encoding":{"y2":{"datum":0},"xOffset":{"field":"g","type":"nominal"},"color":{"field":"g","type":"nominal","scale":{"domain":["a","b"],"range":["#616165","#bbbbbd"]},"legend":null}}},
{"mark":{"type":"rule","color":"#383838","strokeWidth":1},"encoding":{"xOffset":{"field":"g","type":"nominal"},"y2":{"field":"hi"}}},
{"mark":{"type":"tick","color":"#383838","thickness":1,"size":4},"encoding":{"xOffset":{"field":"g","type":"nominal"},"y":{"field":"hi","type":"quantitative","title":null,"scale":{"domain":[0,25],"nice":false,"zero":false}}}},
{"transform":[{"filter":"datum.g=='a' && datum.s"}],"mark":{"type":"text","fontSize":17,"color":"#6a6a6a","baseline":"middle","dy":-4},"encoding":{"text":{"field":"s"},"y":{"field":"top","type":"quantitative","title":null,"scale":{"domain":[0,25],"nice":false,"zero":false}}}}]},
{"width":137,"height":75,"data":{"name":"d"},"transform":[{"filter":"datum.r==4 && datum.m=='C'"},{"calculate":"datum.v+datum.e","as":"hi"},{"joinaggregate":[{"op":"max","field":"hi","as":"top"}],"groupby":["c"]}],"encoding":{"x":{"field":"c","type":"nominal","sort":null,"title":null,"scale":{"paddingInner":0.37,"paddingOuter":0.185},"axis":{"labelAngle":0,"ticks":false,"labelPadding":2}},"y":{"field":"v","type":"quantitative","title":null,"scale":{"domain":[220,250],"nice":false,"zero":false},"axis":{"values":[220,225,230,235,240,245,250],"labelExpr":"datum.value % 10 === 0 ? datum.label : ''"}}},"layer":[
{"mark":{"type":"bar","stroke":"#383838","strokeWidth":0.7},"encoding":{"y2":{"datum":220},"xOffset":{"field":"g","type":"nominal"},"color":{"field":"g","type":"nominal","scale":{"domain":["a","b"],"range":["#616165","#bbbbbd"]},"legend":null}}},
{"mark":{"type":"rule","color":"#383838","strokeWidth":1},"encoding":{"xOffset":{"field":"g","type":"nominal"},"y2":{"field":"hi"}}},
{"mark":{"type":"tick","color":"#383838","thickness":1,"size":4},"encoding":{"xOffset":{"field":"g","type":"nominal"},"y":{"field":"hi","type":"quantitative","title":null,"scale":{"domain":[220,250],"nice":false,"zero":false}}}},
{"transform":[{"filter":"datum.g=='a' && datum.s"}],"mark":{"type":"text","fontSize":17,"color":"#6a6a6a","baseline":"middle","dy":-4},"encoding":{"text":{"field":"s"},"y":{"field":"top","type":"quantitative","title":null,"scale":{"domain":[220,250],"nice":false,"zero":false}}}}]},
{"width":135,"height":75,"data":{"name":"d"},"transform":[{"filter":"datum.r==4 && datum.m=='D'"},{"calculate":"datum.v+datum.e","as":"hi"},{"joinaggregate":[{"op":"max","field":"hi","as":"top"}],"groupby":["c"]}],"encoding":{"x":{"field":"c","type":"nominal","sort":null,"title":null,"scale":{"paddingInner":0.37,"paddingOuter":0.185},"axis":{"labelAngle":0,"ticks":false,"labelPadding":2}},"y":{"field":"v","type":"quantitative","title":null,"scale":{"domain":[290,410],"nice":false,"zero":false},"axis":{"values":[290,310,330,350,370,390,410],"labelExpr":"(datum.value - 290) % 40 === 0 ? datum.label : ''"}}},"layer":[
{"mark":{"type":"bar","stroke":"#383838","strokeWidth":0.7},"encoding":{"y2":{"datum":290},"xOffset":{"field":"g","type":"nominal"},"color":{"field":"g","type":"nominal","scale":{"domain":["a","b"],"range":["#616165","#bbbbbd"]},"legend":null}}},
{"mark":{"type":"rule","color":"#383838","strokeWidth":1},"encoding":{"xOffset":{"field":"g","type":"nominal"},"y2":{"field":"hi"}}},
{"mark":{"type":"tick","color":"#383838","thickness":1,"size":4},"encoding":{"xOffset":{"field":"g","type":"nominal"},"y":{"field":"hi","type":"quantitative","title":null,"scale":{"domain":[290,410],"nice":false,"zero":false}}}},
{"transform":[{"filter":"datum.g=='a' && datum.s"}],"mark":{"type":"text","fontSize":17,"color":"#6a6a6a","baseline":"middle","dy":-4},"encoding":{"text":{"field":"s"},"y":{"field":"top","type":"quantitative","title":null,"scale":{"domain":[290,410],"nice":false,"zero":false}}}}]},

{"width":70,"height":75,"view":{"stroke":null},"data":{"name":"leg"},"transform":[{"filter":"datum.r==5"}],"encoding":{"y":{"field":"slot","type":"nominal","scale":{"type":"point","domain":["top","mid","bot"],"padding":1.5},"axis":null}},"layer":[
{"transform":[{"filter":"datum.n"}],"mark":{"type":"text","align":"left","baseline":"middle","fontSize":32,"color":"#333"},"encoding":{"x":{"datum":0,"type":"quantitative","scale":{"domain":[0,70],"zero":false,"nice":false},"axis":null},"text":{"field":"n"}}},
{"transform":[{"filter":"datum.sh"}],"mark":{"type":"square","size":100,"opacity":1,"stroke":"#333","strokeWidth":0.8},"encoding":{"x":{"datum":45,"type":"quantitative","scale":{"domain":[0,70],"zero":false,"nice":false},"axis":null},"color":{"field":"sh","type":"nominal","scale":{"domain":["a","b"],"range":["#616165","#bbbbbd"]},"legend":null}}},
{"transform":[{"filter":"datum.sh"}],"mark":{"type":"text","align":"left","baseline":"middle","fontSize":11,"color":"#444"},"encoding":{"x":{"datum":55,"type":"quantitative","scale":{"domain":[0,70],"zero":false,"nice":false},"axis":null},"text":{"field":"t"}}},
{"transform":[{"filter":"datum.t=='vs.'"}],"mark":{"type":"text","align":"left","baseline":"middle","fontSize":10,"color":"#444"},"encoding":{"x":{"datum":60,"type":"quantitative","scale":{"domain":[0,70],"zero":false,"nice":false},"axis":null},"text":{"field":"t"}}}]},
{"width":140,"height":75,"data":{"name":"d"},"transform":[{"filter":"datum.r==5 && datum.m=='A'"},{"calculate":"datum.v+datum.e","as":"hi"},{"joinaggregate":[{"op":"max","field":"hi","as":"top"}],"groupby":["c"]}],"encoding":{"x":{"field":"c","type":"nominal","sort":null,"title":null,"scale":{"paddingInner":0.37,"paddingOuter":0.185},"axis":{"labelAngle":0,"ticks":false,"labelPadding":2}},"y":{"field":"v","type":"quantitative","title":null,"scale":{"domain":[0,7],"nice":false,"zero":false},"axis":{"values":[0,1,2,3,4,5,6],"labelExpr":"datum.value % 2 === 0 ? datum.label : ''"}}},"layer":[
{"mark":{"type":"bar","stroke":"#383838","strokeWidth":0.7},"encoding":{"y2":{"datum":0},"xOffset":{"field":"g","type":"nominal"},"color":{"field":"g","type":"nominal","scale":{"domain":["a","b"],"range":["#616165","#bbbbbd"]},"legend":null}}},
{"mark":{"type":"rule","color":"#383838","strokeWidth":1},"encoding":{"xOffset":{"field":"g","type":"nominal"},"y2":{"field":"hi"}}},
{"mark":{"type":"tick","color":"#383838","thickness":1,"size":4},"encoding":{"xOffset":{"field":"g","type":"nominal"},"y":{"field":"hi","type":"quantitative","title":null,"scale":{"domain":[0,7],"nice":false,"zero":false}}}},
{"transform":[{"filter":"datum.g=='a' && datum.s"}],"mark":{"type":"text","fontSize":17,"color":"#6a6a6a","baseline":"middle","dy":-4},"encoding":{"text":{"field":"s"},"y":{"field":"top","type":"quantitative","title":null,"scale":{"domain":[0,7],"nice":false,"zero":false}}}}]},
{"width":139,"height":75,"data":{"name":"d"},"transform":[{"filter":"datum.r==5 && datum.m=='B'"},{"calculate":"datum.v+datum.e","as":"hi"},{"joinaggregate":[{"op":"max","field":"hi","as":"top"}],"groupby":["c"]}],"encoding":{"x":{"field":"c","type":"nominal","sort":null,"title":null,"scale":{"paddingInner":0.37,"paddingOuter":0.185},"axis":{"labelAngle":0,"ticks":false,"labelPadding":2}},"y":{"field":"v","type":"quantitative","title":null,"scale":{"domain":[0,25],"nice":false,"zero":false},"axis":{"values":[0,5,10,15,20],"labelExpr":"datum.value % 10 === 0 ? datum.label : ''"}}},"layer":[
{"mark":{"type":"bar","stroke":"#383838","strokeWidth":0.7},"encoding":{"y2":{"datum":0},"xOffset":{"field":"g","type":"nominal"},"color":{"field":"g","type":"nominal","scale":{"domain":["a","b"],"range":["#616165","#bbbbbd"]},"legend":null}}},
{"mark":{"type":"rule","color":"#383838","strokeWidth":1},"encoding":{"xOffset":{"field":"g","type":"nominal"},"y2":{"field":"hi"}}},
{"mark":{"type":"tick","color":"#383838","thickness":1,"size":4},"encoding":{"xOffset":{"field":"g","type":"nominal"},"y":{"field":"hi","type":"quantitative","title":null,"scale":{"domain":[0,25],"nice":false,"zero":false}}}},
{"transform":[{"filter":"datum.g=='a' && datum.s"}],"mark":{"type":"text","fontSize":17,"color":"#6a6a6a","baseline":"middle","dy":-4},"encoding":{"text":{"field":"s"},"y":{"field":"top","type":"quantitative","title":null,"scale":{"domain":[0,25],"nice":false,"zero":false}}}}]},
{"width":137,"height":75,"data":{"name":"d"},"transform":[{"filter":"datum.r==5 && datum.m=='C'"},{"calculate":"datum.v+datum.e","as":"hi"},{"joinaggregate":[{"op":"max","field":"hi","as":"top"}],"groupby":["c"]}],"encoding":{"x":{"field":"c","type":"nominal","sort":null,"title":null,"scale":{"paddingInner":0.37,"paddingOuter":0.185},"axis":{"labelAngle":0,"ticks":false,"labelPadding":2}},"y":{"field":"v","type":"quantitative","title":null,"scale":{"domain":[220,250],"nice":false,"zero":false},"axis":{"values":[220,225,230,235,240,245,250],"labelExpr":"datum.value % 10 === 0 ? datum.label : ''"}}},"layer":[
{"mark":{"type":"bar","stroke":"#383838","strokeWidth":0.7},"encoding":{"y2":{"datum":220},"xOffset":{"field":"g","type":"nominal"},"color":{"field":"g","type":"nominal","scale":{"domain":["a","b"],"range":["#616165","#bbbbbd"]},"legend":null}}},
{"mark":{"type":"rule","color":"#383838","strokeWidth":1},"encoding":{"xOffset":{"field":"g","type":"nominal"},"y2":{"field":"hi"}}},
{"mark":{"type":"tick","color":"#383838","thickness":1,"size":4},"encoding":{"xOffset":{"field":"g","type":"nominal"},"y":{"field":"hi","type":"quantitative","title":null,"scale":{"domain":[220,250],"nice":false,"zero":false}}}},
{"transform":[{"filter":"datum.g=='a' && datum.s"}],"mark":{"type":"text","fontSize":17,"color":"#6a6a6a","baseline":"middle","dy":-4},"encoding":{"text":{"field":"s"},"y":{"field":"top","type":"quantitative","title":null,"scale":{"domain":[220,250],"nice":false,"zero":false}}}}]},
{"width":135,"height":75,"data":{"name":"d"},"transform":[{"filter":"datum.r==5 && datum.m=='D'"},{"calculate":"datum.v+datum.e","as":"hi"},{"joinaggregate":[{"op":"max","field":"hi","as":"top"}],"groupby":["c"]}],"encoding":{"x":{"field":"c","type":"nominal","sort":null,"title":null,"scale":{"paddingInner":0.37,"paddingOuter":0.185},"axis":{"labelAngle":0,"ticks":false,"labelPadding":2}},"y":{"field":"v","type":"quantitative","title":null,"scale":{"domain":[290,410],"nice":false,"zero":false},"axis":{"values":[290,310,330,350,370,390,410],"labelExpr":"(datum.value - 290) % 40 === 0 ? datum.label : ''"}}},"layer":[
{"mark":{"type":"bar","stroke":"#383838","strokeWidth":0.7},"encoding":{"y2":{"datum":290},"xOffset":{"field":"g","type":"nominal"},"color":{"field":"g","type":"nominal","scale":{"domain":["a","b"],"range":["#616165","#bbbbbd"]},"legend":null}}},
{"mark":{"type":"rule","color":"#383838","strokeWidth":1},"encoding":{"xOffset":{"field":"g","type":"nominal"},"y2":{"field":"hi"}}},
{"mark":{"type":"tick","color":"#383838","thickness":1,"size":4},"encoding":{"xOffset":{"field":"g","type":"nominal"},"y":{"field":"hi","type":"quantitative","title":null,"scale":{"domain":[290,410],"nice":false,"zero":false}}}},
{"transform":[{"filter":"datum.g=='a' && datum.s"}],"mark":{"type":"text","fontSize":17,"color":"#6a6a6a","baseline":"middle","dy":-4},"encoding":{"text":{"field":"s"},"y":{"field":"top","type":"quantitative","title":null,"scale":{"domain":[290,410],"nice":false,"zero":false}}}}]},

{"width":70,"height":75,"view":{"stroke":null},"data":{"name":"leg"},"transform":[{"filter":"datum.r==6"}],"encoding":{"y":{"field":"slot","type":"nominal","scale":{"type":"point","domain":["top","mid","bot"],"padding":1.5},"axis":null}},"layer":[
{"transform":[{"filter":"datum.n"}],"mark":{"type":"text","align":"left","baseline":"middle","fontSize":32,"color":"#333"},"encoding":{"x":{"datum":0,"type":"quantitative","scale":{"domain":[0,70],"zero":false,"nice":false},"axis":null},"text":{"field":"n"}}},
{"transform":[{"filter":"datum.sh"}],"mark":{"type":"square","size":100,"opacity":1,"stroke":"#333","strokeWidth":0.8},"encoding":{"x":{"datum":45,"type":"quantitative","scale":{"domain":[0,70],"zero":false,"nice":false},"axis":null},"color":{"field":"sh","type":"nominal","scale":{"domain":["a","b"],"range":["#616165","#bbbbbd"]},"legend":null}}},
{"transform":[{"filter":"datum.sh"}],"mark":{"type":"text","align":"left","baseline":"middle","fontSize":11,"color":"#444"},"encoding":{"x":{"datum":55,"type":"quantitative","scale":{"domain":[0,70],"zero":false,"nice":false},"axis":null},"text":{"field":"t"}}},
{"transform":[{"filter":"datum.t=='vs.'"}],"mark":{"type":"text","align":"left","baseline":"middle","fontSize":10,"color":"#444"},"encoding":{"x":{"datum":60,"type":"quantitative","scale":{"domain":[0,70],"zero":false,"nice":false},"axis":null},"text":{"field":"t"}}}]},
{"width":140,"height":75,"data":{"name":"d"},"transform":[{"filter":"datum.r==6 && datum.m=='A'"},{"calculate":"datum.v+datum.e","as":"hi"},{"joinaggregate":[{"op":"max","field":"hi","as":"top"}],"groupby":["c"]}],"encoding":{"x":{"field":"c","type":"nominal","sort":null,"title":null,"scale":{"paddingInner":0.37,"paddingOuter":0.185},"axis":{"labelAngle":0,"ticks":false,"labelPadding":2}},"y":{"field":"v","type":"quantitative","title":null,"scale":{"domain":[0,7],"nice":false,"zero":false},"axis":{"values":[0,1,2,3,4,5,6],"labelExpr":"datum.value % 2 === 0 ? datum.label : ''"}}},"layer":[
{"mark":{"type":"bar","stroke":"#383838","strokeWidth":0.7},"encoding":{"y2":{"datum":0},"xOffset":{"field":"g","type":"nominal"},"color":{"field":"g","type":"nominal","scale":{"domain":["a","b"],"range":["#616165","#bbbbbd"]},"legend":null}}},
{"mark":{"type":"rule","color":"#383838","strokeWidth":1},"encoding":{"xOffset":{"field":"g","type":"nominal"},"y2":{"field":"hi"}}},
{"mark":{"type":"tick","color":"#383838","thickness":1,"size":4},"encoding":{"xOffset":{"field":"g","type":"nominal"},"y":{"field":"hi","type":"quantitative","title":null,"scale":{"domain":[0,7],"nice":false,"zero":false}}}},
{"transform":[{"filter":"datum.g=='a' && datum.s"}],"mark":{"type":"text","fontSize":17,"color":"#6a6a6a","baseline":"middle","dy":-4},"encoding":{"text":{"field":"s"},"y":{"field":"top","type":"quantitative","title":null,"scale":{"domain":[0,7],"nice":false,"zero":false}}}}]},
{"width":139,"height":75,"data":{"name":"d"},"transform":[{"filter":"datum.r==6 && datum.m=='B'"},{"calculate":"datum.v+datum.e","as":"hi"},{"joinaggregate":[{"op":"max","field":"hi","as":"top"}],"groupby":["c"]}],"encoding":{"x":{"field":"c","type":"nominal","sort":null,"title":null,"scale":{"paddingInner":0.37,"paddingOuter":0.185},"axis":{"labelAngle":0,"ticks":false,"labelPadding":2}},"y":{"field":"v","type":"quantitative","title":null,"scale":{"domain":[0,25],"nice":false,"zero":false},"axis":{"values":[0,5,10,15,20],"labelExpr":"datum.value % 10 === 0 ? datum.label : ''"}}},"layer":[
{"mark":{"type":"bar","stroke":"#383838","strokeWidth":0.7},"encoding":{"y2":{"datum":0},"xOffset":{"field":"g","type":"nominal"},"color":{"field":"g","type":"nominal","scale":{"domain":["a","b"],"range":["#616165","#bbbbbd"]},"legend":null}}},
{"mark":{"type":"rule","color":"#383838","strokeWidth":1},"encoding":{"xOffset":{"field":"g","type":"nominal"},"y2":{"field":"hi"}}},
{"mark":{"type":"tick","color":"#383838","thickness":1,"size":4},"encoding":{"xOffset":{"field":"g","type":"nominal"},"y":{"field":"hi","type":"quantitative","title":null,"scale":{"domain":[0,25],"nice":false,"zero":false}}}},
{"transform":[{"filter":"datum.g=='a' && datum.s"}],"mark":{"type":"text","fontSize":17,"color":"#6a6a6a","baseline":"middle","dy":-4},"encoding":{"text":{"field":"s"},"y":{"field":"top","type":"quantitative","title":null,"scale":{"domain":[0,25],"nice":false,"zero":false}}}}]},
{"width":137,"height":75,"data":{"name":"d"},"transform":[{"filter":"datum.r==6 && datum.m=='C'"},{"calculate":"datum.v+datum.e","as":"hi"},{"joinaggregate":[{"op":"max","field":"hi","as":"top"}],"groupby":["c"]}],"encoding":{"x":{"field":"c","type":"nominal","sort":null,"title":null,"scale":{"paddingInner":0.37,"paddingOuter":0.185},"axis":{"labelAngle":0,"ticks":false,"labelPadding":2}},"y":{"field":"v","type":"quantitative","title":null,"scale":{"domain":[220,250],"nice":false,"zero":false},"axis":{"values":[220,225,230,235,240,245,250],"labelExpr":"datum.value % 10 === 0 ? datum.label : ''"}}},"layer":[
{"mark":{"type":"bar","stroke":"#383838","strokeWidth":0.7},"encoding":{"y2":{"datum":220},"xOffset":{"field":"g","type":"nominal"},"color":{"field":"g","type":"nominal","scale":{"domain":["a","b"],"range":["#616165","#bbbbbd"]},"legend":null}}},
{"mark":{"type":"rule","color":"#383838","strokeWidth":1},"encoding":{"xOffset":{"field":"g","type":"nominal"},"y2":{"field":"hi"}}},
{"mark":{"type":"tick","color":"#383838","thickness":1,"size":4},"encoding":{"xOffset":{"field":"g","type":"nominal"},"y":{"field":"hi","type":"quantitative","title":null,"scale":{"domain":[220,250],"nice":false,"zero":false}}}},
{"transform":[{"filter":"datum.g=='a' && datum.s"}],"mark":{"type":"text","fontSize":17,"color":"#6a6a6a","baseline":"middle","dy":-4},"encoding":{"text":{"field":"s"},"y":{"field":"top","type":"quantitative","title":null,"scale":{"domain":[220,250],"nice":false,"zero":false}}}}]},
{"width":135,"height":75,"data":{"name":"d"},"transform":[{"filter":"datum.r==6 && datum.m=='D'"},{"calculate":"datum.v+datum.e","as":"hi"},{"joinaggregate":[{"op":"max","field":"hi","as":"top"}],"groupby":["c"]}],"encoding":{"x":{"field":"c","type":"nominal","sort":null,"title":null,"scale":{"paddingInner":0.37,"paddingOuter":0.185},"axis":{"labelAngle":0,"ticks":false,"labelPadding":2}},"y":{"field":"v","type":"quantitative","title":null,"scale":{"domain":[290,410],"nice":false,"zero":false},"axis":{"values":[290,310,330,350,370,390,410],"labelExpr":"(datum.value - 290) % 40 === 0 ? datum.label : ''"}}},"layer":[
{"mark":{"type":"bar","stroke":"#383838","strokeWidth":0.7},"encoding":{"y2":{"datum":290},"xOffset":{"field":"g","type":"nominal"},"color":{"field":"g","type":"nominal","scale":{"domain":["a","b"],"range":["#616165","#bbbbbd"]},"legend":null}}},
{"mark":{"type":"rule","color":"#383838","strokeWidth":1},"encoding":{"xOffset":{"field":"g","type":"nominal"},"y2":{"field":"hi"}}},
{"mark":{"type":"tick","color":"#383838","thickness":1,"size":4},"encoding":{"xOffset":{"field":"g","type":"nominal"},"y":{"field":"hi","type":"quantitative","title":null,"scale":{"domain":[290,410],"nice":false,"zero":false}}}},
{"transform":[{"filter":"datum.g=='a' && datum.s"}],"mark":{"type":"text","fontSize":17,"color":"#6a6a6a","baseline":"middle","dy":-4},"encoding":{"text":{"field":"s"},"y":{"field":"top","type":"quantitative","title":null,"scale":{"domain":[290,410],"nice":false,"zero":false}}}}]}
]
}
